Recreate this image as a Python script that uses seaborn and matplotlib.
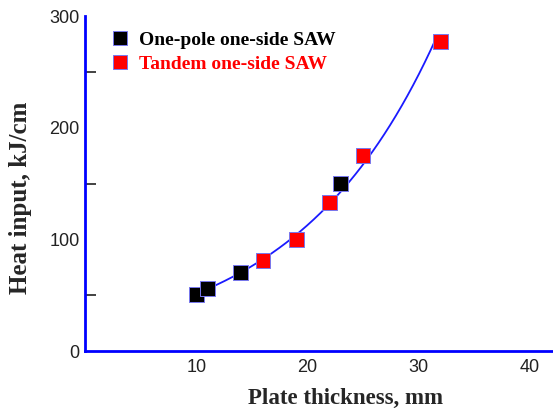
import numpy as np
import pandas as pd
import matplotlib
matplotlib.use('Agg')
import matplotlib.pyplot as plt
import seaborn as sns
from matplotlib.ticker import MultipleLocator

# Data
one_pole_thickness = [10, 11, 14, 23]
one_pole_heat = [51, 56, 70, 150]
tandem_thickness = [16, 19, 22, 25, 32]
tandem_heat = [81, 100, 133, 175, 277]

sns.set_style('white')
plt.rcParams['font.family'] = ['Liberation Sans', 'DejaVu Sans']

df = pd.DataFrame({
    'thickness': one_pole_thickness + tandem_thickness,
    'heat': one_pole_heat + tandem_heat,
    'process': ['One-pole one-side SAW'] * len(one_pole_thickness)
               + ['Tandem one-side SAW'] * len(tandem_thickness),
})

fig = plt.figure(figsize=(5.53, 4.12), dpi=100)
ax = fig.add_axes([0.154, 0.148, 0.846, 0.813])

# exponential trend line fitted through all points
b, log_a = np.polyfit(df['thickness'], np.log(df['heat']), 1)
xs = np.linspace(11, 31.7, 200)
ax.plot(xs, np.exp(log_a) * np.exp(b * xs), color='#1a1aff', lw=1.3, zorder=2)

sns.scatterplot(data=df, x='thickness', y='heat', hue='process',
                palette={'One-pole one-side SAW': '#000000',
                         'Tandem one-side SAW': '#ff0000'},
                marker='s', s=115, edgecolor='#7777ee', linewidth=0.7,
                ax=ax, zorder=3)

ax.set_xlim(0, 42.1)
ax.set_ylim(0, 300)
ax.set_xticks([10, 20, 30, 40])
ax.yaxis.set_major_locator(MultipleLocator(100))
ax.yaxis.set_minor_locator(MultipleLocator(50))

for side in ['top', 'right']:
    ax.spines[side].set_visible(False)
for side in ['left', 'bottom']:
    ax.spines[side].set_color('#0000ff')
    ax.spines[side].set_linewidth(2)

ax.tick_params(axis='x', direction='in', length=12, width=1.5, color='#0000ff',
               labelsize=13, labelcolor='#222222', pad=6)
ax.tick_params(axis='y', which='both', direction='in', length=8, width=1.2,
               color='#222222', labelsize=13, labelcolor='#222222', pad=4)
ax.tick_params(axis='y', which='minor', left=True)

ax.set_xlabel('Plate thickness, mm', family='Liberation Serif',
              weight='bold', size=16.5)
ax.set_ylabel('Heat input, kJ/cm', family='Liberation Serif',
              weight='bold', size=18)
ax.xaxis.set_label_coords(0.556, -0.11)
ax.yaxis.set_label_coords(-0.113, 0.457)

leg = ax.legend(loc='upper left', frameon=False, markerscale=1.0,
                prop=dict(family='Liberation Serif', weight='bold', size=14),
                handlelength=1.4, handletextpad=0.28, labelspacing=0.35,
                borderaxespad=0.6, bbox_to_anchor=(0.003, 1.013))
for text, col in zip(leg.get_texts(), ['#000000', '#ff0000']):
    text.set_color(col)

fig.savefig('out.png', dpi=100)
